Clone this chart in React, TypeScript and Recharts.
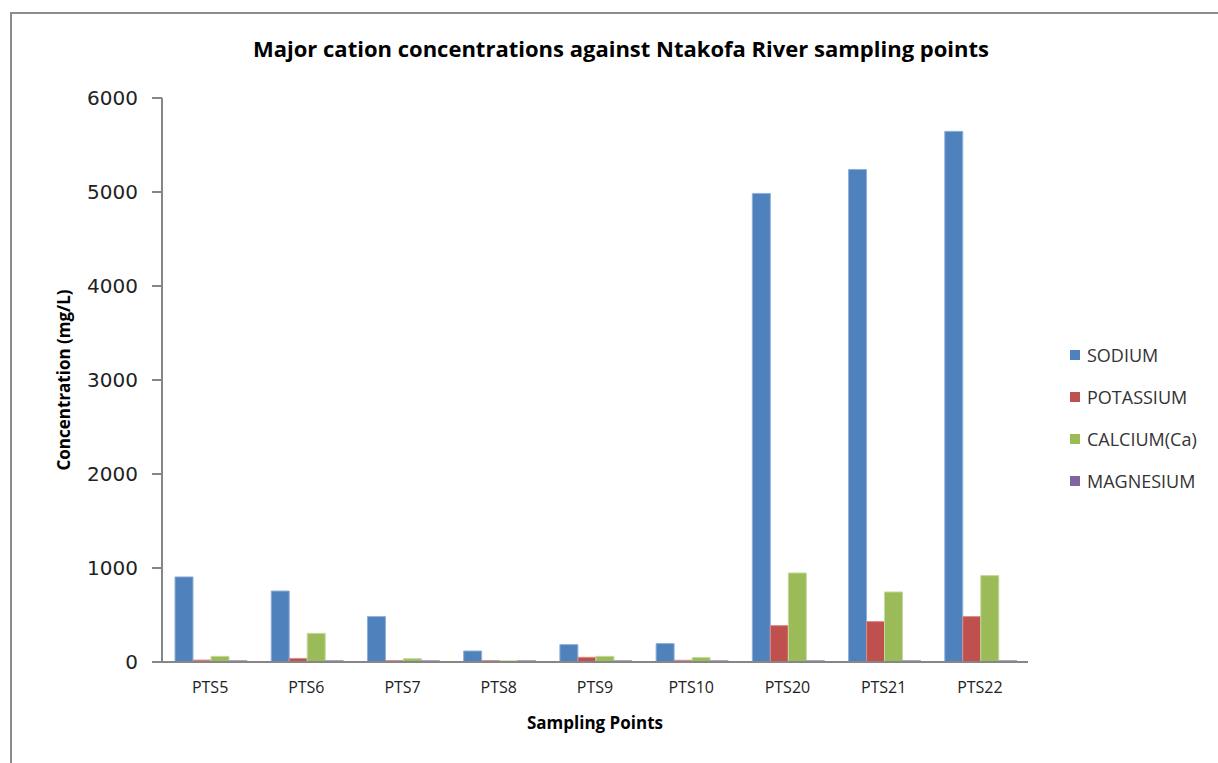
import { BarChart, Bar, XAxis, YAxis, Label } from 'recharts'

// Sampling points along the river
const samplingPoints = ['PTS5', 'PTS6', 'PTS7', 'PTS8', 'PTS9', 'PTS10', 'PTS20', 'PTS21', 'PTS22']

// Cation concentrations (mg/L)
const sodium = [905, 755, 483, 117, 185, 196, 4985, 5240, 5645]
const potassium = [20, 38, 15, 15, 50, 18, 387, 430, 483]
const calcium = [60, 305, 35, 12, 60, 47, 947, 745, 919]
const magnesium = [15, 15, 15, 15, 15, 15, 15, 15, 15]

const yTicks = [0, 1000, 2000, 3000, 4000, 5000, 6000]

const series = [
	{ key: 'SODIUM', values: sodium, fill: '#4F81BD', stroke: '#8FB0DA' },
	{ key: 'POTASSIUM', values: potassium, fill: '#C0504D', stroke: '#D98B89' },
	{ key: 'CALCIUM(Ca)', values: calcium, fill: '#9BBB59', stroke: '#C3D99A' },
	{ key: 'MAGNESIUM', values: magnesium, fill: '#8064A2', stroke: '#B09FC8' },
]

const data = samplingPoints.map((name, i) => {
	const row: Record<string, string | number> = { name }
	series.forEach(s => { row[s.key] = s.values[i] })
	return row
})

const axisColor = '#868686'
const font = "'Open Sans', sans-serif"

function LegendBox() {
	return (
		<div style={{ position: 'absolute', left: 1070, top: 334, fontFamily: font, fontSize: 18, color: '#333' }}>
			{series.map(s => (
				<div key={s.key} style={{ display: 'flex', alignItems: 'center', height: 42 }}>
					<span style={{ width: 10, height: 10, background: s.fill, marginRight: 7, display: 'inline-block' }} />
					<span>{s.key}</span>
				</div>
			))}
		</div>
	)
}

export default function App() {
	return (
		<div style={{ position: 'absolute', left: 0, top: 0, width: 1218, height: 763, background: '#fff', overflow: 'hidden' }}>
			{/* chart frame */}
			<div style={{ position: 'absolute', left: 10, top: 12, width: 1230, height: 780, border: '2px solid #8c8c8c' }} />
			<div style={{
				position: 'absolute', left: 0, top: 33, width: 1242, textAlign: 'center',
				fontFamily: font, fontWeight: 700, fontSize: 22, color: '#000',
			}}>
				Major cation concentrations against Ntakofa River sampling points
			</div>
			<div style={{ position: 'absolute', left: 0, top: 0 }}>
				<BarChart
					width={1218}
					height={763}
					data={data}
					margin={{ top: 98, right: 190, bottom: 61, left: 82 }}
					barCategoryGap={13}
					barGap={0}
				>
					<XAxis
						dataKey="name"
						height={40}
						axisLine={{ stroke: axisColor, strokeWidth: 2 }}
						tickLine={false}
						tickMargin={14}
						tick={{ fill: '#222', fontSize: 16, fontFamily: font }}
					>
						<Label
							value="Sampling Points"
							position="insideBottom"
							offset={-27}
							style={{ fill: '#000', fontSize: 17, fontWeight: 700, fontFamily: font }}
						/>
					</XAxis>
					<YAxis
						width={80}
						domain={[0, 6000]}
						ticks={yTicks}
						interval={0}
						axisLine={{ stroke: axisColor, strokeWidth: 2 }}
						tickLine={{ stroke: axisColor, strokeWidth: 2 }}
						tickSize={10}
						tickMargin={14}
						tick={{ fill: '#222', fontSize: 20, fontFamily: "'DejaVu Sans', sans-serif" }}
					>
						<Label
							value="Concentration (mg/L)"
							angle={-90}
							position="insideLeft"
							offset={-18}
							style={{ textAnchor: 'middle', fill: '#000', fontSize: 17, fontWeight: 700, fontFamily: font }}
						/>
					</YAxis>
					{series.map(s => (
						<Bar
							key={s.key}
							dataKey={s.key}
							fill={s.fill}
							stroke={s.stroke}
							strokeWidth={1}
							isAnimationActive={false}
						/>
					))}
				</BarChart>
			</div>
			<LegendBox />
		</div>
	)
}
